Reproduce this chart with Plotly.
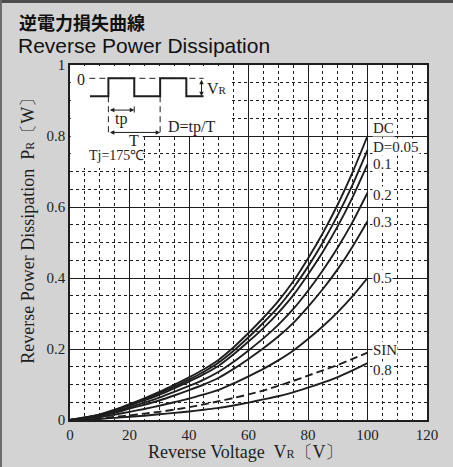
import plotly.graph_objects as go

# ---------------- data ----------------
voltage = [0, 5, 10, 15, 20, 25, 30, 35, 40, 45, 50, 55, 60, 65, 70, 75, 80, 85, 90, 95, 100]

p_dc   = [0, 0.007, 0.016, 0.029, 0.045, 0.061, 0.079, 0.099, 0.120, 0.143, 0.170, 0.205, 0.245, 0.288, 0.335, 0.390, 0.455, 0.527, 0.607, 0.698, 0.800]
p_d005 = [0, 0.007, 0.015, 0.028, 0.043, 0.058, 0.075, 0.094, 0.114, 0.136, 0.162, 0.195, 0.233, 0.274, 0.318, 0.371, 0.432, 0.501, 0.577, 0.663, 0.760]
p_d01  = [0, 0.006, 0.014, 0.026, 0.041, 0.055, 0.071, 0.089, 0.108, 0.129, 0.153, 0.185, 0.221, 0.259, 0.302, 0.351, 0.410, 0.474, 0.546, 0.628, 0.720]
p_d02  = [0, 0.006, 0.013, 0.023, 0.036, 0.049, 0.063, 0.079, 0.096, 0.114, 0.136, 0.164, 0.196, 0.230, 0.268, 0.312, 0.364, 0.422, 0.486, 0.558, 0.640]
p_d03  = [0, 0.005, 0.011, 0.020, 0.032, 0.043, 0.055, 0.069, 0.084, 0.100, 0.119, 0.144, 0.172, 0.202, 0.235, 0.273, 0.319, 0.369, 0.425, 0.489, 0.560]
p_d05  = [0, 0.004, 0.008, 0.015, 0.023, 0.031, 0.040, 0.050, 0.060, 0.072, 0.085, 0.103, 0.123, 0.144, 0.168, 0.195, 0.228, 0.264, 0.304, 0.349, 0.400]
p_d08  = [0, 0.001, 0.003, 0.006, 0.009, 0.012, 0.016, 0.020, 0.024, 0.029, 0.034, 0.041, 0.049, 0.058, 0.067, 0.078, 0.091, 0.105, 0.121, 0.140, 0.160]
p_sin  = [0, 0.002, 0.005, 0.009, 0.013, 0.018, 0.023, 0.029, 0.036, 0.044, 0.053, 0.062, 0.072, 0.083, 0.096, 0.110, 0.125, 0.140, 0.155, 0.172, 0.190]

curve_labels = ["DC", "D=0.05", "0.1", "0.2", "0.3", "0.5", "SIN", "0.8"]
label_y      = [0.822, 0.770, 0.722, 0.634, 0.559, 0.399, 0.197, 0.141]

x_ticks = [0, 20, 40, 60, 80, 100, 120]
y_ticks = [0, 0.2, 0.4, 0.6, 0.8, 1]
y_tick_text = ["0", "0.2", "0.4", "0.6", "0.8", "1"]

# inset pulse diagram
wave_x = [6.7, 12.9, 12.9, 21.6, 21.6, 30.3, 30.3, 39.1, 39.1, 44.9]
wave_y = [0.912, 0.912, 0.9625, 0.9625, 0.912, 0.912, 0.9625, 0.9625, 0.912, 0.912]

INK = "#1e1e1e"
SERIF = "Liberation Serif"

fig = go.Figure()

solid_series = [p_dc, p_d005, p_d01, p_d02, p_d03, p_d05, p_d08]
for s in solid_series:
    fig.add_trace(go.Scatter(x=voltage, y=s, mode="lines",
                             line=dict(color=INK, width=1.9, shape="spline", smoothing=0.6),
                             hoverinfo="skip", showlegend=False))
fig.add_trace(go.Scatter(x=voltage, y=p_sin, mode="lines",
                         line=dict(color=INK, width=1.9, dash="8px,4px", shape="spline", smoothing=0.6),
                         hoverinfo="skip", showlegend=False))

# inset waveform lines
fig.add_trace(go.Scatter(x=[6.5, 44.9], y=[0.9625, 0.9625], mode="lines",
                         line=dict(color=INK, width=1, dash="6px,4px"), hoverinfo="skip", showlegend=False))
fig.add_trace(go.Scatter(x=wave_x, y=wave_y, mode="lines",
                         line=dict(color=INK, width=2), hoverinfo="skip", showlegend=False))
fig.add_trace(go.Scatter(x=[12.9, 12.9, None, 30.3, 30.3], y=[0.912, 0.803, None, 0.912, 0.803], mode="lines",
                         line=dict(color=INK, width=1, dash="6px,4px"), hoverinfo="skip", showlegend=False))
fig.add_trace(go.Scatter(x=[21.6, 21.6], y=[0.866, 0.883], mode="lines",
                         line=dict(color=INK, width=1), hoverinfo="skip", showlegend=False))

shapes = [
    # white inset panel and Tj panel (above grid, below traces)
    dict(type="rect", xref="x", yref="y", x0=0.25, x1=53.5, y0=0.8, y1=0.997,
         fillcolor="white", line=dict(width=0), layer="between"),
    dict(type="rect", xref="x", yref="y", x0=0.25, x1=24.5, y0=0.71, y1=0.8,
         fillcolor="white", line=dict(width=0), layer="between"),
    # frame of the whole picture (top and left)
    dict(type="line", xref="paper", yref="paper", x0=-0.3, x1=1.2, y0=1.179, y1=1.179,
         line=dict(color="#4d4d4d", width=3)),
    dict(type="line", xref="paper", yref="paper", x0=-0.1934, x1=-0.1934, y0=-0.3, y1=1.2,
         line=dict(color="#6a6a6a", width=2)),
]

annotations = []
for lab, yy in zip(curve_labels, label_y):
    annotations.append(dict(x=101.4, y=yy, xref="x", yref="y", text=lab, showarrow=False,
                            xanchor="left", yanchor="middle", bgcolor="white", borderpad=0,
                            font=dict(family=SERIF, size=15, color=INK)))

# arrows in inset
for (x0, y0, x1, y1) in [(12.9, 0.873, 21.6, 0.873), (12.9, 0.810, 30.3, 0.810), (44.2, 0.9625, 44.2, 0.912)]:
    annotations.append(dict(x=x1, y=y1, ax=x0, ay=y0, xref="x", yref="y", axref="x", ayref="y",
                            text="", showarrow=True, arrowhead=2, arrowsize=0.9, arrowwidth=1,
                            arrowside="end+start", arrowcolor=INK, standoff=0, startstandoff=0))

inset_texts = [
    ("0", 3.7, 0.958, "center", 16),
    ("tp", 17.1, 0.848, "center", 16),
    ("T", 21.6, 0.787, "center", 16),
    ("D=tp/T", 32.2, 0.826, "left", 16),
    ("V<span style='font-size:11px'>R</span>", 45.4, 0.935, "left", 16),
    ("Tj=175℃", 5.6, 0.746, "left", 14),
]
for t, xx, yy, anc, fs in inset_texts:
    annotations.append(dict(x=xx, y=yy, xref="x", yref="y", text=t, showarrow=False,
                            xanchor=anc, yanchor="middle",
                            font=dict(family=SERIF, size=fs, color=INK)))

# titles
annotations += [
    dict(x=-0.148, y=1.122, xref="paper", yref="paper", text="<b>逆電力損失曲線</b>", showarrow=False,
         xanchor="left", yanchor="middle", font=dict(family="Noto Sans CJK JP", size=18, color="#111")),
    dict(x=-0.152, y=1.054, xref="paper", yref="paper", text="Reverse Power Dissipation", showarrow=False,
         xanchor="left", yanchor="middle", font=dict(family="Liberation Sans", size=21, color="#111")),
    dict(x=0.493, y=-0.089, xref="paper", yref="paper",
         text="Reverse Voltage  V<span style='font-size:12px'>R</span>〔V〕", showarrow=False,
         xanchor="center", yanchor="middle", font=dict(family=SERIF, size=18, color=INK)),
    dict(x=-0.120, y=0.545, xref="paper", yref="paper", textangle=-90,
         text="Reverse Power Dissipation  P<span style='font-size:12px'>R</span>〔W〕", showarrow=False,
         xanchor="center", yanchor="middle", font=dict(family=SERIF, size=18, color=INK)),
]

axis_common = dict(showline=True, mirror=True, linecolor=INK, linewidth=1.5,
                   showgrid=True, gridcolor=INK, gridwidth=1.2, zeroline=False, ticks="",
                   tickfont=dict(family=SERIF, size=15, color=INK))

fig.update_layout(
    width=453, height=467,
    margin=dict(l=70, r=26, t=65, b=47),
    paper_bgcolor="#d3d3d3", plot_bgcolor="white",
    showlegend=False,
    shapes=shapes, annotations=annotations,
    xaxis=dict(range=[0, 120], tickvals=x_ticks,
               minor=dict(dtick=5, showgrid=True, gridcolor=INK, griddash="dot", gridwidth=1),
               **axis_common),
    yaxis=dict(range=[0, 1], tickvals=y_ticks, ticktext=y_tick_text,
               minor=dict(dtick=0.05, showgrid=True, gridcolor=INK, griddash="dot", gridwidth=1),
               **axis_common),
)

fig.write_html("out.html",
               config={"displayModeBar": False},
               post_script="document.body.style.margin='0';document.body.style.background='#d3d3d3';")
